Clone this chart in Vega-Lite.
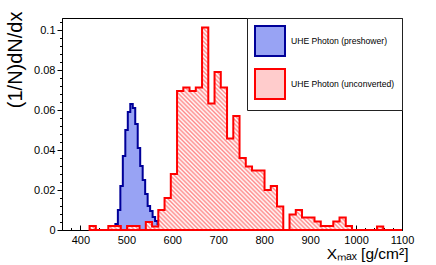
{
  "$schema": "https://vega.github.io/schema/vega-lite/v6.json",
  "width": 340,
  "height": 212,
  "autosize": {"type": "none"},
  "padding": {"left": 62, "top": 18, "right": 34, "bottom": 35},
  "background": "white",
  "config": {
    "view": {"stroke": "black", "strokeWidth": 1},
    "font": "Liberation Sans",
    "legend": {
      "orient": "top-right",
      "offset": 0,
      "symbolType": "square",
      "symbolSize": 900,
      "symbolStrokeWidth": 2,
      "labelFont": "Liberation Sans",
      "labelFontSize": 8.6,
      "labelColor": "black",
      "labelOffset": 5,
      "rowPadding": 5,
      "padding": 7,
      "strokeColor": "#222222",
      "fillColor": "white"
    }
  },
  "data": {
    "values": [
      {"s": "UHE Photon (preshower)", "x0": 460, "x1": 465.4, "v": 0},
      {"s": "UHE Photon (preshower)", "x0": 465.4, "x1": 470.8, "v": 0},
      {"s": "UHE Photon (preshower)", "x0": 470.8, "x1": 476.2, "v": 0.0005},
      {"s": "UHE Photon (preshower)", "x0": 476.2, "x1": 481.6, "v": 0.003},
      {"s": "UHE Photon (preshower)", "x0": 481.6, "x1": 487, "v": 0.010},
      {"s": "UHE Photon (preshower)", "x0": 487, "x1": 492.4, "v": 0.022},
      {"s": "UHE Photon (preshower)", "x0": 492.4, "x1": 497.8, "v": 0.037},
      {"s": "UHE Photon (preshower)", "x0": 497.8, "x1": 503.2, "v": 0.050},
      {"s": "UHE Photon (preshower)", "x0": 503.2, "x1": 508.6, "v": 0.059},
      {"s": "UHE Photon (preshower)", "x0": 508.6, "x1": 514, "v": 0.063},
      {"s": "UHE Photon (preshower)", "x0": 514, "x1": 519.4, "v": 0.061},
      {"s": "UHE Photon (preshower)", "x0": 519.4, "x1": 524.8, "v": 0.053},
      {"s": "UHE Photon (preshower)", "x0": 524.8, "x1": 530.2, "v": 0.041},
      {"s": "UHE Photon (preshower)", "x0": 530.2, "x1": 535.6, "v": 0.032},
      {"s": "UHE Photon (preshower)", "x0": 535.6, "x1": 541, "v": 0.025},
      {"s": "UHE Photon (preshower)", "x0": 541, "x1": 546.4, "v": 0.018},
      {"s": "UHE Photon (preshower)", "x0": 546.4, "x1": 551.8, "v": 0.012},
      {"s": "UHE Photon (preshower)", "x0": 551.8, "x1": 557.2, "v": 0.0095},
      {"s": "UHE Photon (preshower)", "x0": 557.2, "x1": 562.6, "v": 0.0065},
      {"s": "UHE Photon (preshower)", "x0": 562.6, "x1": 568, "v": 0.0045},
      {"s": "UHE Photon (preshower)", "x0": 568, "x1": 573.4, "v": 0.003},
      {"s": "UHE Photon (preshower)", "x0": 573.4, "x1": 578.8, "v": 0.0025},
      {"s": "UHE Photon (preshower)", "x0": 578.8, "x1": 584.2, "v": 0.0017},
      {"s": "UHE Photon (preshower)", "x0": 584.2, "x1": 589.6, "v": 0.0017},
      {"s": "UHE Photon (preshower)", "x0": 589.6, "x1": 595, "v": 0.0012},
      {"s": "UHE Photon (preshower)", "x0": 595, "x1": 600.4, "v": 0.0008},
      {"s": "UHE Photon (preshower)", "x0": 600.4, "x1": 605.8, "v": 0.001},
      {"s": "UHE Photon (preshower)", "x0": 605.8, "x1": 611.2, "v": 0.0006},
      {"s": "UHE Photon (preshower)", "x0": 611.2, "x1": 616.6, "v": 0.0008},
      {"s": "UHE Photon (preshower)", "x0": 616.6, "x1": 622, "v": 0.0004},
      {"s": "UHE Photon (preshower)", "x0": 622, "x1": 627.4, "v": 0.0006},
      {"s": "UHE Photon (preshower)", "x0": 627.4, "x1": 632.8, "v": 0.0003},
      {"s": "UHE Photon (preshower)", "x0": 632.8, "x1": 638.2, "v": 0.0005},
      {"s": "UHE Photon (preshower)", "x0": 638.2, "x1": 643.6, "v": 0.0003},
      {"s": "UHE Photon (preshower)", "x0": 643.6, "x1": 649, "v": 0.0008},
      {"s": "UHE Photon (preshower)", "x0": 649, "x1": 654.4, "v": 0.0012},
      {"s": "UHE Photon (preshower)", "x0": 654.4, "x1": 659.8, "v": 0.0004},
      {"s": "UHE Photon (preshower)", "x0": 659.8, "x1": 665.2, "v": 0.0003},
      {"s": "UHE Photon (preshower)", "x0": 665.2, "x1": 670.6, "v": 0.0005},
      {"s": "UHE Photon (preshower)", "x0": 670.6, "x1": 676, "v": 0.0002},
      {"s": "UHE Photon (preshower)", "x0": 676, "x1": 681.4, "v": 0.0003},
      {"s": "UHE Photon (preshower)", "x0": 681.4, "x1": 686.8, "v": 0.0002},
      {"s": "UHE Photon (preshower)", "x0": 686.8, "x1": 692.2, "v": 0.0003},
      {"s": "UHE Photon (preshower)", "x0": 692.2, "x1": 697.6, "v": 0.0002},
      {"s": "UHE Photon (preshower)", "x0": 697.6, "x1": 703, "v": 0},
      {"s": "UHE Photon (preshower)", "x0": 703, "x1": 708.4, "v": 0.0002},
      {"s": "UHE Photon (preshower)", "x0": 708.4, "x1": 713.8, "v": 0},
      {"s": "UHE Photon (preshower)", "x0": 713.8, "x1": 719.2, "v": 0.0002},
      {"s": "UHE Photon (preshower)", "x0": 719.2, "x1": 724.6, "v": 0},
      {"s": "UHE Photon (preshower)", "x0": 724.6, "x1": 730, "v": 0.0002},
      {"s": "UHE Photon (unconverted)", "x0": 420, "x1": 433.6, "v": 0.002},
      {"s": "UHE Photon (unconverted)", "x0": 433.6, "x1": 447.2, "v": 0},
      {"s": "UHE Photon (unconverted)", "x0": 447.2, "x1": 460.8, "v": 0},
      {"s": "UHE Photon (unconverted)", "x0": 460.8, "x1": 474.4, "v": 0.002},
      {"s": "UHE Photon (unconverted)", "x0": 474.4, "x1": 488, "v": 0.002},
      {"s": "UHE Photon (unconverted)", "x0": 488, "x1": 501.6, "v": 0},
      {"s": "UHE Photon (unconverted)", "x0": 501.6, "x1": 515.2, "v": 0.002},
      {"s": "UHE Photon (unconverted)", "x0": 515.2, "x1": 528.8, "v": 0.002},
      {"s": "UHE Photon (unconverted)", "x0": 528.8, "x1": 542.4, "v": 0},
      {"s": "UHE Photon (unconverted)", "x0": 542.4, "x1": 556, "v": 0.004},
      {"s": "UHE Photon (unconverted)", "x0": 556, "x1": 569.6, "v": 0.0017},
      {"s": "UHE Photon (unconverted)", "x0": 569.6, "x1": 583.2, "v": 0.010},
      {"s": "UHE Photon (unconverted)", "x0": 583.2, "x1": 596.8, "v": 0.016},
      {"s": "UHE Photon (unconverted)", "x0": 596.8, "x1": 610.4, "v": 0.028},
      {"s": "UHE Photon (unconverted)", "x0": 610.4, "x1": 624, "v": 0.0695},
      {"s": "UHE Photon (unconverted)", "x0": 624, "x1": 637.6, "v": 0.0712},
      {"s": "UHE Photon (unconverted)", "x0": 637.6, "x1": 651.2, "v": 0.0695},
      {"s": "UHE Photon (unconverted)", "x0": 651.2, "x1": 664.8, "v": 0.0712},
      {"s": "UHE Photon (unconverted)", "x0": 664.8, "x1": 678.4, "v": 0.1013},
      {"s": "UHE Photon (unconverted)", "x0": 678.4, "x1": 692, "v": 0.0633},
      {"s": "UHE Photon (unconverted)", "x0": 692, "x1": 705.6, "v": 0.079},
      {"s": "UHE Photon (unconverted)", "x0": 705.6, "x1": 719.2, "v": 0.0712},
      {"s": "UHE Photon (unconverted)", "x0": 719.2, "x1": 732.8, "v": 0.0458},
      {"s": "UHE Photon (unconverted)", "x0": 732.8, "x1": 746.4, "v": 0.057},
      {"s": "UHE Photon (unconverted)", "x0": 746.4, "x1": 760, "v": 0.036},
      {"s": "UHE Photon (unconverted)", "x0": 760, "x1": 773.6, "v": 0.0317},
      {"s": "UHE Photon (unconverted)", "x0": 773.6, "x1": 787.2, "v": 0.0297},
      {"s": "UHE Photon (unconverted)", "x0": 787.2, "x1": 800.8, "v": 0.0297},
      {"s": "UHE Photon (unconverted)", "x0": 800.8, "x1": 814.4, "v": 0.020},
      {"s": "UHE Photon (unconverted)", "x0": 814.4, "x1": 828, "v": 0.022},
      {"s": "UHE Photon (unconverted)", "x0": 828, "x1": 841.6, "v": 0.0117},
      {"s": "UHE Photon (unconverted)", "x0": 841.6, "x1": 855.2, "v": 0},
      {"s": "UHE Photon (unconverted)", "x0": 855.2, "x1": 868.8, "v": 0.0078},
      {"s": "UHE Photon (unconverted)", "x0": 868.8, "x1": 882.4, "v": 0.010},
      {"s": "UHE Photon (unconverted)", "x0": 882.4, "x1": 896, "v": 0.0063},
      {"s": "UHE Photon (unconverted)", "x0": 896, "x1": 909.6, "v": 0.0063},
      {"s": "UHE Photon (unconverted)", "x0": 909.6, "x1": 923.2, "v": 0.0042},
      {"s": "UHE Photon (unconverted)", "x0": 923.2, "x1": 936.8, "v": 0.002},
      {"s": "UHE Photon (unconverted)", "x0": 936.8, "x1": 950.4, "v": 0.002},
      {"s": "UHE Photon (unconverted)", "x0": 950.4, "x1": 964, "v": 0.0042},
      {"s": "UHE Photon (unconverted)", "x0": 964, "x1": 977.6, "v": 0.0063},
      {"s": "UHE Photon (unconverted)", "x0": 977.6, "x1": 991.2, "v": 0.002},
      {"s": "UHE Photon (unconverted)", "x0": 991.2, "x1": 1004.8, "v": 0},
      {"s": "UHE Photon (unconverted)", "x0": 1004.8, "x1": 1018.4, "v": 0},
      {"s": "UHE Photon (unconverted)", "x0": 1018.4, "x1": 1032, "v": 0},
      {"s": "UHE Photon (unconverted)", "x0": 1032, "x1": 1045.6, "v": 0},
      {"s": "UHE Photon (unconverted)", "x0": 1045.6, "x1": 1059.2, "v": 0.0017},
      {"s": "UHE Photon (unconverted)", "x0": 1059.2, "x1": 1072.8, "v": 0},
      {"s": "UHE Photon (unconverted)", "x0": 1072.8, "x1": 1086.4, "v": 0},
      {"s": "UHE Photon (unconverted)", "x0": 1086.4, "x1": 1100, "v": 0}
    ]
  },
  "encoding": {
    "x": {
      "field": "x",
      "type": "quantitative",
      "scale": {"domain": [360, 1100], "nice": false, "zero": false},
      "axis": {
        "values": [360, 380, 400, 420, 440, 460, 480, 500, 520, 540, 560, 580, 600, 620, 640, 660, 680, 700, 720, 740, 760, 780, 800, 820, 840, 860, 880, 900, 920, 940, 960, 980, 1000, 1020, 1040, 1060, 1080, 1100],
        "labelExpr": "datum.value % 100 === 0 ? datum.label : ''",
        "format": "d",
        "labelOverlap": false,
        "labelFlush": false,
        "tickSize": {"condition": {"test": "datum.value % 100 === 0", "value": -5}, "value": -2.5},
        "labelPadding": 9,
        "labelFontSize": 11,
        "labelFont": "Liberation Sans",
        "labelColor": "black",
        "tickColor": "black",
        "domainColor": "black",
        "grid": false,
        "title": "Xₘₐₓ [g/cm²]",
        "titleFont": "Liberation Sans",
        "titleFontSize": 15.5,
        "titleFontWeight": "normal",
        "titleColor": "black",
        "titleAlign": "right",
        "titleBaseline": "alphabetic",
        "titleX": 346,
        "titleY": 28
      }
    },
    "y": {
      "field": "v",
      "type": "quantitative",
      "stack": null,
      "scale": {"domain": [0, 0.106], "nice": false},
      "axis": {
        "values": [0, 0.004, 0.008, 0.012, 0.016, 0.02, 0.024, 0.028, 0.032, 0.036, 0.04, 0.044, 0.048, 0.052, 0.056, 0.06, 0.064, 0.068, 0.072, 0.076, 0.08, 0.084, 0.088, 0.092, 0.096, 0.1, 0.104],
        "format": "~g",
        "labelExpr": "abs(datum.value * 50 - round(datum.value * 50)) < 0.000001 ? datum.label : ''",
        "labelOverlap": false,
        "labelFlush": false,
        "tickSize": {"condition": {"test": "abs(datum.value * 50 - round(datum.value * 50)) < 0.000001", "value": 5}, "value": 2.5},
        "labelPadding": 2,
        "labelFontSize": 11,
        "labelFont": "Liberation Sans",
        "labelColor": "black",
        "tickColor": "black",
        "domainColor": "black",
        "grid": false,
        "title": "(1/N)dN/dx",
        "titleFont": "Liberation Sans",
        "titleFontSize": 20,
        "titleFontWeight": "normal",
        "titleColor": "black",
        "titleAlign": "right",
        "titleBaseline": "bottom",
        "titleX": -37,
        "titleY": -7
      }
    }
  },
  "layer": [
    {
      "transform": [
        {"filter": "datum.s === 'UHE Photon (preshower)'"},
        {"fold": ["x0", "x1"], "as": ["edge", "x"]}
      ],
      "mark": {"type": "area", "strokeWidth": 2, "strokeJoin": "miter", "interpolate": "linear", "opacity": 1},
      "encoding": {
        "fill": {
          "field": "s",
          "type": "nominal",
          "scale": {"domain": ["UHE Photon (preshower)", "UHE Photon (unconverted)"], "range": ["#98a3f4", "#ffcccc"]},
          "legend": {"title": null, "labelExpr": "datum.label + '\u00a0\u00a0'"}
        },
        "stroke": {
          "field": "s",
          "type": "nominal",
          "scale": {"domain": ["UHE Photon (preshower)", "UHE Photon (unconverted)"], "range": ["#000099", "#ff0000"]},
          "legend": {"title": null, "labelExpr": "datum.label + '\u00a0\u00a0'"}
        }
      }
    },
    {
      "transform": [
        {"filter": "datum.s === 'UHE Photon (unconverted)'"},
        {"fold": ["x0", "x1"], "as": ["edge", "x"]}
      ],
      "mark": {
        "type": "area",
        "strokeWidth": 2,
        "strokeJoin": "miter",
        "interpolate": "linear",
        "opacity": 1,
        "stroke": "#ff0000",
        "fill": {
          "gradient": "linear",
          "x1": 0, "y1": 1, "x2": 1.1602, "y2": 0.2466,
          "stops": [
            {"offset":0,"color":"#ffffff"},{"offset":0.0042,"color":"#ff8a8a"},{"offset":0.0083,"color":"#ffffff"},{"offset":0.0125,"color":"#ff8a8a"},{"offset":0.0167,"color":"#ffffff"},{"offset":0.0208,"color":"#ff8a8a"},{"offset":0.025,"color":"#ffffff"},{"offset":0.0292,"color":"#ff8a8a"},{"offset":0.0333,"color":"#ffffff"},{"offset":0.0375,"color":"#ff8a8a"},{"offset":0.0417,"color":"#ffffff"},{"offset":0.0458,"color":"#ff8a8a"},{"offset":0.05,"color":"#ffffff"},{"offset":0.0542,"color":"#ff8a8a"},{"offset":0.0583,"color":"#ffffff"},{"offset":0.0625,"color":"#ff8a8a"},{"offset":0.0667,"color":"#ffffff"},{"offset":0.0708,"color":"#ff8a8a"},{"offset":0.075,"color":"#ffffff"},{"offset":0.0792,"color":"#ff8a8a"},{"offset":0.0833,"color":"#ffffff"},{"offset":0.0875,"color":"#ff8a8a"},{"offset":0.0917,"color":"#ffffff"},{"offset":0.0958,"color":"#ff8a8a"},
            {"offset":0.1,"color":"#ffffff"},{"offset":0.1042,"color":"#ff8a8a"},{"offset":0.1083,"color":"#ffffff"},{"offset":0.1125,"color":"#ff8a8a"},{"offset":0.1167,"color":"#ffffff"},{"offset":0.1208,"color":"#ff8a8a"},{"offset":0.125,"color":"#ffffff"},{"offset":0.1292,"color":"#ff8a8a"},{"offset":0.1333,"color":"#ffffff"},{"offset":0.1375,"color":"#ff8a8a"},{"offset":0.1417,"color":"#ffffff"},{"offset":0.1458,"color":"#ff8a8a"},{"offset":0.15,"color":"#ffffff"},{"offset":0.1542,"color":"#ff8a8a"},{"offset":0.1583,"color":"#ffffff"},{"offset":0.1625,"color":"#ff8a8a"},{"offset":0.1667,"color":"#ffffff"},{"offset":0.1708,"color":"#ff8a8a"},{"offset":0.175,"color":"#ffffff"},{"offset":0.1792,"color":"#ff8a8a"},{"offset":0.1833,"color":"#ffffff"},{"offset":0.1875,"color":"#ff8a8a"},{"offset":0.1917,"color":"#ffffff"},{"offset":0.1958,"color":"#ff8a8a"},
            {"offset":0.2,"color":"#ffffff"},{"offset":0.2042,"color":"#ff8a8a"},{"offset":0.2083,"color":"#ffffff"},{"offset":0.2125,"color":"#ff8a8a"},{"offset":0.2167,"color":"#ffffff"},{"offset":0.2208,"color":"#ff8a8a"},{"offset":0.225,"color":"#ffffff"},{"offset":0.2292,"color":"#ff8a8a"},{"offset":0.2333,"color":"#ffffff"},{"offset":0.2375,"color":"#ff8a8a"},{"offset":0.2417,"color":"#ffffff"},{"offset":0.2458,"color":"#ff8a8a"},{"offset":0.25,"color":"#ffffff"},{"offset":0.2542,"color":"#ff8a8a"},{"offset":0.2583,"color":"#ffffff"},{"offset":0.2625,"color":"#ff8a8a"},{"offset":0.2667,"color":"#ffffff"},{"offset":0.2708,"color":"#ff8a8a"},{"offset":0.275,"color":"#ffffff"},{"offset":0.2792,"color":"#ff8a8a"},{"offset":0.2833,"color":"#ffffff"},{"offset":0.2875,"color":"#ff8a8a"},{"offset":0.2917,"color":"#ffffff"},{"offset":0.2958,"color":"#ff8a8a"},
            {"offset":0.3,"color":"#ffffff"},{"offset":0.3042,"color":"#ff8a8a"},{"offset":0.3083,"color":"#ffffff"},{"offset":0.3125,"color":"#ff8a8a"},{"offset":0.3167,"color":"#ffffff"},{"offset":0.3208,"color":"#ff8a8a"},{"offset":0.325,"color":"#ffffff"},{"offset":0.3292,"color":"#ff8a8a"},{"offset":0.3333,"color":"#ffffff"},{"offset":0.3375,"color":"#ff8a8a"},{"offset":0.3417,"color":"#ffffff"},{"offset":0.3458,"color":"#ff8a8a"},{"offset":0.35,"color":"#ffffff"},{"offset":0.3542,"color":"#ff8a8a"},{"offset":0.3583,"color":"#ffffff"},{"offset":0.3625,"color":"#ff8a8a"},{"offset":0.3667,"color":"#ffffff"},{"offset":0.3708,"color":"#ff8a8a"},{"offset":0.375,"color":"#ffffff"},{"offset":0.3792,"color":"#ff8a8a"},{"offset":0.3833,"color":"#ffffff"},{"offset":0.3875,"color":"#ff8a8a"},{"offset":0.3917,"color":"#ffffff"},{"offset":0.3958,"color":"#ff8a8a"},
            {"offset":0.4,"color":"#ffffff"},{"offset":0.4042,"color":"#ff8a8a"},{"offset":0.4083,"color":"#ffffff"},{"offset":0.4125,"color":"#ff8a8a"},{"offset":0.4167,"color":"#ffffff"},{"offset":0.4208,"color":"#ff8a8a"},{"offset":0.425,"color":"#ffffff"},{"offset":0.4292,"color":"#ff8a8a"},{"offset":0.4333,"color":"#ffffff"},{"offset":0.4375,"color":"#ff8a8a"},{"offset":0.4417,"color":"#ffffff"},{"offset":0.4458,"color":"#ff8a8a"},{"offset":0.45,"color":"#ffffff"},{"offset":0.4542,"color":"#ff8a8a"},{"offset":0.4583,"color":"#ffffff"},{"offset":0.4625,"color":"#ff8a8a"},{"offset":0.4667,"color":"#ffffff"},{"offset":0.4708,"color":"#ff8a8a"},{"offset":0.475,"color":"#ffffff"},{"offset":0.4792,"color":"#ff8a8a"},{"offset":0.4833,"color":"#ffffff"},{"offset":0.4875,"color":"#ff8a8a"},{"offset":0.4917,"color":"#ffffff"},{"offset":0.4958,"color":"#ff8a8a"},
            {"offset":0.5,"color":"#ffffff"},{"offset":0.5042,"color":"#ff8a8a"},{"offset":0.5083,"color":"#ffffff"},{"offset":0.5125,"color":"#ff8a8a"},{"offset":0.5167,"color":"#ffffff"},{"offset":0.5208,"color":"#ff8a8a"},{"offset":0.525,"color":"#ffffff"},{"offset":0.5292,"color":"#ff8a8a"},{"offset":0.5333,"color":"#ffffff"},{"offset":0.5375,"color":"#ff8a8a"},{"offset":0.5417,"color":"#ffffff"},{"offset":0.5458,"color":"#ff8a8a"},{"offset":0.55,"color":"#ffffff"},{"offset":0.5542,"color":"#ff8a8a"},{"offset":0.5583,"color":"#ffffff"},{"offset":0.5625,"color":"#ff8a8a"},{"offset":0.5667,"color":"#ffffff"},{"offset":0.5708,"color":"#ff8a8a"},{"offset":0.575,"color":"#ffffff"},{"offset":0.5792,"color":"#ff8a8a"},{"offset":0.5833,"color":"#ffffff"},{"offset":0.5875,"color":"#ff8a8a"},{"offset":0.5917,"color":"#ffffff"},{"offset":0.5958,"color":"#ff8a8a"},
            {"offset":0.6,"color":"#ffffff"},{"offset":0.6042,"color":"#ff8a8a"},{"offset":0.6083,"color":"#ffffff"},{"offset":0.6125,"color":"#ff8a8a"},{"offset":0.6167,"color":"#ffffff"},{"offset":0.6208,"color":"#ff8a8a"},{"offset":0.625,"color":"#ffffff"},{"offset":0.6292,"color":"#ff8a8a"},{"offset":0.6333,"color":"#ffffff"},{"offset":0.6375,"color":"#ff8a8a"},{"offset":0.6417,"color":"#ffffff"},{"offset":0.6458,"color":"#ff8a8a"},{"offset":0.65,"color":"#ffffff"},{"offset":0.6542,"color":"#ff8a8a"},{"offset":0.6583,"color":"#ffffff"},{"offset":0.6625,"color":"#ff8a8a"},{"offset":0.6667,"color":"#ffffff"},{"offset":0.6708,"color":"#ff8a8a"},{"offset":0.675,"color":"#ffffff"},{"offset":0.6792,"color":"#ff8a8a"},{"offset":0.6833,"color":"#ffffff"},{"offset":0.6875,"color":"#ff8a8a"},{"offset":0.6917,"color":"#ffffff"},{"offset":0.6958,"color":"#ff8a8a"},
            {"offset":0.7,"color":"#ffffff"},{"offset":0.7042,"color":"#ff8a8a"},{"offset":0.7083,"color":"#ffffff"},{"offset":0.7125,"color":"#ff8a8a"},{"offset":0.7167,"color":"#ffffff"},{"offset":0.7208,"color":"#ff8a8a"},{"offset":0.725,"color":"#ffffff"},{"offset":0.7292,"color":"#ff8a8a"},{"offset":0.7333,"color":"#ffffff"},{"offset":0.7375,"color":"#ff8a8a"},{"offset":0.7417,"color":"#ffffff"},{"offset":0.7458,"color":"#ff8a8a"},{"offset":0.75,"color":"#ffffff"},{"offset":0.7542,"color":"#ff8a8a"},{"offset":0.7583,"color":"#ffffff"},{"offset":0.7625,"color":"#ff8a8a"},{"offset":0.7667,"color":"#ffffff"},{"offset":0.7708,"color":"#ff8a8a"},{"offset":0.775,"color":"#ffffff"},{"offset":0.7792,"color":"#ff8a8a"},{"offset":0.7833,"color":"#ffffff"},{"offset":0.7875,"color":"#ff8a8a"},{"offset":0.7917,"color":"#ffffff"},{"offset":0.7958,"color":"#ff8a8a"},
            {"offset":0.8,"color":"#ffffff"},{"offset":0.8042,"color":"#ff8a8a"},{"offset":0.8083,"color":"#ffffff"},{"offset":0.8125,"color":"#ff8a8a"},{"offset":0.8167,"color":"#ffffff"},{"offset":0.8208,"color":"#ff8a8a"},{"offset":0.825,"color":"#ffffff"},{"offset":0.8292,"color":"#ff8a8a"},{"offset":0.8333,"color":"#ffffff"},{"offset":0.8375,"color":"#ff8a8a"},{"offset":0.8417,"color":"#ffffff"},{"offset":0.8458,"color":"#ff8a8a"},{"offset":0.85,"color":"#ffffff"},{"offset":0.8542,"color":"#ff8a8a"},{"offset":0.8583,"color":"#ffffff"},{"offset":0.8625,"color":"#ff8a8a"},{"offset":0.8667,"color":"#ffffff"},{"offset":0.8708,"color":"#ff8a8a"},{"offset":0.875,"color":"#ffffff"},{"offset":0.8792,"color":"#ff8a8a"},{"offset":0.8833,"color":"#ffffff"},{"offset":0.8875,"color":"#ff8a8a"},{"offset":0.8917,"color":"#ffffff"},{"offset":0.8958,"color":"#ff8a8a"},
            {"offset":0.9,"color":"#ffffff"},{"offset":0.9042,"color":"#ff8a8a"},{"offset":0.9083,"color":"#ffffff"},{"offset":0.9125,"color":"#ff8a8a"},{"offset":0.9167,"color":"#ffffff"},{"offset":0.9208,"color":"#ff8a8a"},{"offset":0.925,"color":"#ffffff"},{"offset":0.9292,"color":"#ff8a8a"},{"offset":0.9333,"color":"#ffffff"},{"offset":0.9375,"color":"#ff8a8a"},{"offset":0.9417,"color":"#ffffff"},{"offset":0.9458,"color":"#ff8a8a"},{"offset":0.95,"color":"#ffffff"},{"offset":0.9542,"color":"#ff8a8a"},{"offset":0.9583,"color":"#ffffff"},{"offset":0.9625,"color":"#ff8a8a"},{"offset":0.9667,"color":"#ffffff"},{"offset":0.9708,"color":"#ff8a8a"},{"offset":0.975,"color":"#ffffff"},{"offset":0.9792,"color":"#ff8a8a"},{"offset":0.9833,"color":"#ffffff"},{"offset":0.9875,"color":"#ff8a8a"},{"offset":0.9917,"color":"#ffffff"},{"offset":0.9958,"color":"#ff8a8a"},
            {"offset":1,"color":"#ffffff"}
          ]
        }
      }
    }
  ]
}
